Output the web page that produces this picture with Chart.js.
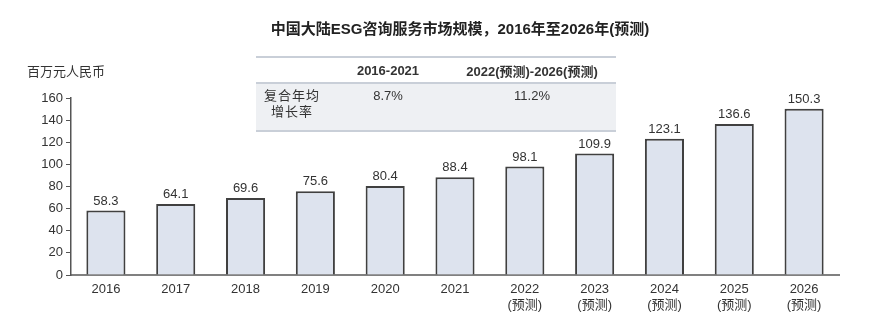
<!DOCTYPE html>
<html>
<head>
<meta charset="utf-8">
<script src="https://cdn.jsdelivr.net/npm/chart.js@4/dist/chart.umd.min.js"></script>
<style>
  body { margin: 0; background: #fff; font-family: "Liberation Sans", "Noto Sans CJK SC", sans-serif; color: #222; }
  #wrap { position: relative; width: 875px; height: 325px; }
  #title { position: absolute; left: 0; width: 920px; top: 17px; text-align: center; font-weight: bold; font-size: 15px; }
  #unit { position: absolute; left: 27px; top: 61px; font-size: 13px; color: #333; }
  #cagr { position: absolute; left: 256px; top: 56px; width: 360px; border-collapse: collapse; font-size: 13px; color: #333; }
  #cagr td { text-align: center; padding: 0; }
  #cagr tr.head td { height: 24px; font-weight: bold; border-top: 2px solid #c9cfd8; border-bottom: 2px solid #c9cfd8; }
  #cagr tr.body td { height: 42px; background: #eef0f3; border-bottom: 2px solid #c9cfd8; vertical-align: top; padding-top: 4px; }
  #cagr td.lbl { line-height: 16px; letter-spacing: 1px; }
</style>
</head>
<body>
<div id="wrap">
  <canvas id="sizeChart" width="875" height="325"></canvas>
  <div id="title">中国大陆ESG咨询服务市场规模，2016年至2026年(预测)</div>
  <div id="unit">百万元人民币</div>
  <table id="cagr">
    <tr class="head"><td style="width:72px"></td><td style="width:120px">2016-2021</td><td>2022(预测)-2026(预测)</td></tr>
    <tr class="body"><td class="lbl">复合年均<br>增长率</td><td>8.7%</td><td>11.2%</td></tr>
  </table>
</div>
<script>
var years = ["2016", "2017", "2018", "2019", "2020", "2021", "2022", "2023", "2024", "2025", "2026"];
var forecastFrom = "2022";
var marketSize = [58.3, 64.1, 69.6, 75.6, 80.4, 88.4, 98.1, 109.9, 123.1, 136.6, 150.3];
var yTicks = [0, 20, 40, 60, 80, 100, 120, 140, 160];

var labels = [];
for (var i = 0; i < years.length; i++) {
    if (years[i] >= forecastFrom) {
        labels.push([years[i], "(预测)"]);
    } else {
        labels.push(years[i]);
    }
}

var valueLabels = {
    id: 'valueLabels',
    afterDatasetsDraw: function (chart) {
        var ctx = chart.ctx;
        var meta = chart.getDatasetMeta(0);
        ctx.save();
        ctx.font = '13px "Liberation Sans", sans-serif';
        ctx.fillStyle = '#333';
        ctx.textAlign = 'center';
        ctx.textBaseline = 'bottom';
        meta.data.forEach(function (bar, i) {
            ctx.fillText(marketSize[i].toFixed(1), bar.x, bar.y - 3);
        });
        ctx.restore();
    }
};

var sizeChartElem = document.getElementById("sizeChart");
var sizeChart = new Chart(sizeChartElem, {
    type: 'bar',
    data: {
        labels: labels,
        datasets: [
            {
                label: "市场规模",
                data: marketSize,
                backgroundColor: "#dde3ee",
                borderColor: "#404040",
                borderWidth: 2,
                barPercentage: 0.56,
                categoryPercentage: 1.0
            }
        ]
    },
    options: {
        responsive: false,
        animation: false,
        layout: { padding: { top: 98, right: 36, left: 0, bottom: 0 } },
        plugins: {
            legend: { display: false },
            tooltip: { enabled: false }
        },
        scales: {
            x: {
                grid: { display: false, drawTicks: false },
                border: { color: '#808080', width: 2 },
                ticks: {
                    color: '#333',
                    font: { family: '"Liberation Sans", "Noto Sans CJK SC", sans-serif', size: 13, lineHeight: 1.25 },
                    padding: 6,
                    maxRotation: 0,
                    autoSkip: false
                },
                afterFit: function (s) { s.height = 50; }
            },
            y: {
                min: 0,
                max: 160,
                afterBuildTicks: function (s) {
                    s.ticks = yTicks.map(function (v) { return { value: v }; });
                },
                grid: { drawOnChartArea: false, drawTicks: true, tickLength: 5, color: '#555', lineWidth: 1 },
                border: { color: '#555', width: 1.5 },
                ticks: {
                    color: '#333',
                    font: { family: '"Liberation Sans", sans-serif', size: 13 },
                    padding: 3
                },
                afterFit: function (s) { s.width = 71; }
            }
        }
    },
    plugins: [valueLabels]
});
</script>
</body>
</html>
